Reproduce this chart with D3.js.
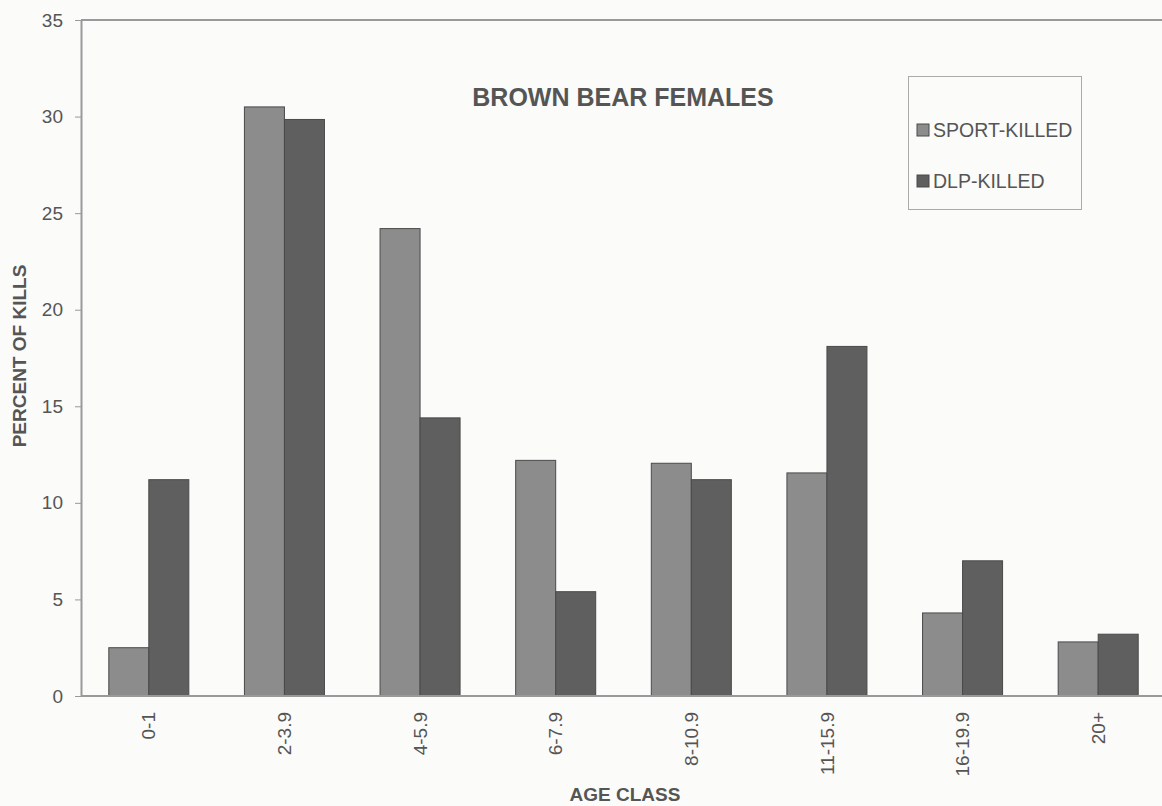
<!DOCTYPE html>
<html>
<head>
<meta charset="utf-8">
<script src="https://cdn.jsdelivr.net/npm/d3@7"></script>
<style>
  body { margin: 0; background: #fbfbfa; }
  text { font-family: "Liberation Sans", Arial, sans-serif; fill: #555; }
</style>
</head>
<body>
<div id="chart"></div>
<script>
var ageClasses = ["0-1", "2-3.9", "4-5.9", "6-7.9", "8-10.9", "11-15.9", "16-19.9", "20+"];
var sportKilled = [2.5, 30.5, 24.2, 12.2, 12.05, 11.55, 4.3, 2.8];
var dlpKilled = [11.2, 29.85, 14.4, 5.4, 11.2, 18.1, 7.0, 3.2];
var seriesNames = ["SPORT-KILLED", "DLP-KILLED"];
var seriesColors = ["#8c8c8c", "#5f5f5f"];
var yTicks = [0, 5, 10, 15, 20, 25, 30, 35];

var W = 1162, H = 806;
var mLeft = 81, mTop = 20, mRight = 1166, mBottom = 696;

var svg = d3.select("#chart").append("svg")
    .attr("width", W)
    .attr("height", H);

var x = d3.scaleBand()
    .domain(ageClasses)
    .range([mLeft, mRight])
    .paddingInner(0.41)
    .paddingOuter(0.205);

var xs = d3.scaleBand()
    .domain(seriesNames)
    .range([0, x.bandwidth()]);

var y = d3.scaleLinear()
    .domain([0, 35])
    .range([mBottom, mTop]);

// top border line
svg.append("line")
    .attr("x1", mLeft).attr("x2", W)
    .attr("y1", y(35)).attr("y2", y(35))
    .attr("stroke", "#999").attr("stroke-width", 2);

// bars
var rows = ageClasses.map(function(c, i) {
    return {age: c, vals: [sportKilled[i], dlpKilled[i]]};
});
var g = svg.selectAll(".grp").data(rows).enter().append("g")
    .attr("transform", function(d) { return "translate(" + x(d.age) + ",0)"; });
g.selectAll("rect")
    .data(function(d) { return d.vals.map(function(v, j) { return {name: seriesNames[j], v: v, j: j}; }); })
    .enter().append("rect")
    .attr("x", function(d) { return xs(d.name); })
    .attr("width", xs.bandwidth())
    .attr("y", function(d) { return y(d.v); })
    .attr("height", function(d) { return y(0) - y(d.v); })
    .attr("fill", function(d) { return seriesColors[d.j]; })
    .attr("stroke", "#4a4a4a")
    .attr("stroke-width", 1);

// y axis
var yAxis = svg.append("g")
    .attr("transform", "translate(" + mLeft + ",0)")
    .call(d3.axisLeft(y).tickValues(yTicks).tickSize(6).tickPadding(12).tickSizeOuter(0));
yAxis.select(".domain").attr("stroke", "#999").attr("stroke-width", 2);
yAxis.selectAll(".tick line").attr("stroke", "#999");
yAxis.selectAll(".tick text").attr("font-size", 19).attr("fill", "#555");

// x axis
var xAxis = svg.append("g")
    .attr("transform", "translate(0," + mBottom + ")")
    .call(d3.axisBottom(x).tickSize(0).tickSizeOuter(0));
xAxis.select(".domain").attr("stroke", "#999").attr("stroke-width", 2)
    .attr("d", "M" + mLeft + ",0H" + W);
xAxis.selectAll(".tick text")
    .attr("font-size", 19)
    .attr("fill", "#555")
    .attr("transform", "rotate(-90)")
    .attr("text-anchor", "end")
    .attr("x", -16)
    .attr("y", 0)
    .attr("dy", "0.35em");

// title
svg.append("text")
    .attr("x", 623).attr("y", 106)
    .attr("text-anchor", "middle")
    .attr("font-size", 25).attr("font-weight", "bold")
    .text("BROWN BEAR FEMALES");

// axis titles
svg.append("text")
    .attr("x", 625).attr("y", 801)
    .attr("text-anchor", "middle")
    .attr("font-size", 19).attr("font-weight", "bold")
    .text("AGE CLASS");
svg.append("text")
    .attr("transform", "translate(26,356) rotate(-90)")
    .attr("text-anchor", "middle")
    .attr("font-size", 19).attr("font-weight", "bold")
    .text("PERCENT OF KILLS");

// legend
var lg = svg.append("g");
lg.append("rect")
    .attr("x", 908.5).attr("y", 76.5)
    .attr("width", 173).attr("height", 133)
    .attr("fill", "none").attr("stroke", "#aaa").attr("stroke-width", 1);
seriesNames.forEach(function(n, i) {
    var cy = 130 + i * 51;
    lg.append("rect")
        .attr("x", 917).attr("y", cy - 6)
        .attr("width", 12).attr("height", 12)
        .attr("fill", seriesColors[i]).attr("stroke", "#4a4a4a");
    lg.append("text")
        .attr("x", 933).attr("y", cy)
        .attr("dy", "0.35em")
        .attr("font-size", 19.5)
        .text(n);
});
</script>
</body>
</html>
